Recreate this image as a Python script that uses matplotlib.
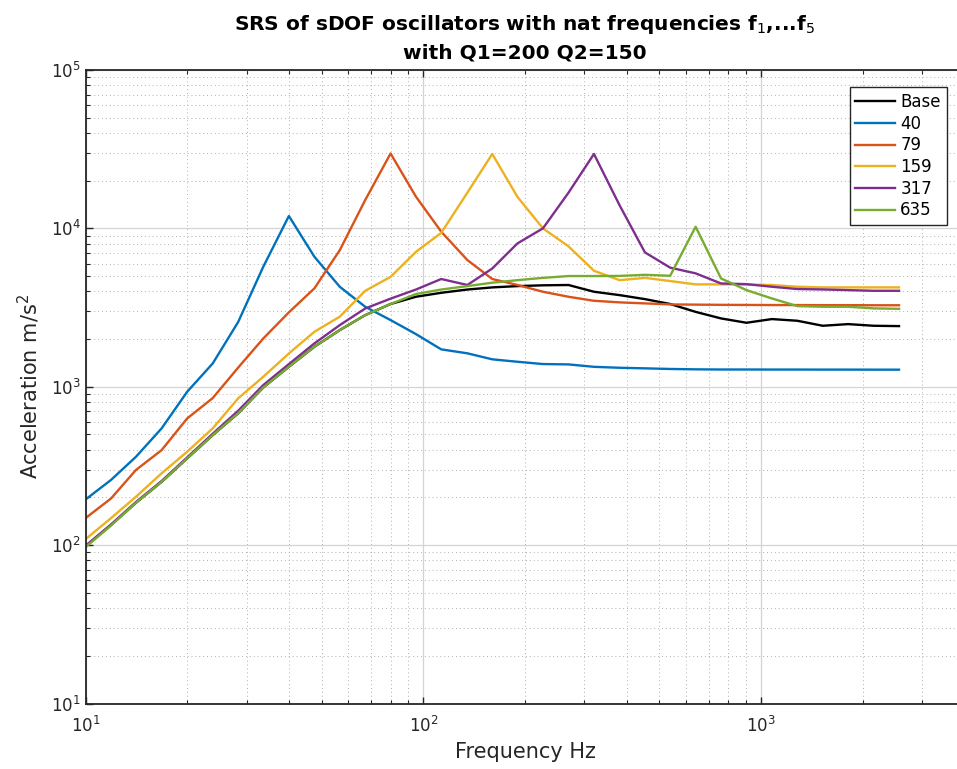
import matplotlib
matplotlib.use('Agg')
import matplotlib.pyplot as plt

# frequency grid (Hz), quarter-octave steps
freq = [10, 11.9, 14.1, 16.8, 20, 23.8, 28.3, 33.6, 40, 47.6, 56.6, 67.3, 80,
        95.1, 113, 135, 160, 190, 226, 269, 320, 381, 453, 538, 640, 761,
        905, 1076, 1280, 1522, 1810, 2153, 2560]

# SRS values, m/s^2
base = [98, 134, 185, 251, 353, 495, 680, 990, 1337, 1789, 2280, 2833, 3330,
        3700, 3920, 4110, 4240, 4320, 4370, 4390, 3980, 3790, 3575, 3330, 2970,
        2700, 2535, 2675, 2610, 2427, 2486, 2427, 2415]
f40 = [194, 258, 361, 546, 930, 1403, 2560, 5730, 11970, 6620, 4276, 3198, 2636,
       2150, 1722, 1626, 1490, 1438, 1391, 1384, 1336, 1318, 1307, 1295, 1288,
       1285, 1285, 1284, 1284, 1283, 1283, 1282, 1282]
f79 = [148, 197, 298, 398, 631, 848, 1320, 2018, 2950, 4180, 7290, 15100, 29700,
       15860, 9530, 6310, 4790, 4390, 3980, 3700, 3490, 3410, 3360, 3310, 3300,
       3290, 3285, 3280, 3280, 3275, 3275, 3270, 3270]
f159 = [109, 148, 202, 284, 389, 546, 844, 1157, 1622, 2225, 2770, 4035, 4940,
        7110, 9370, 16800, 29500, 15800, 10000, 7700, 5400, 4710, 4870, 4650, 4430,
        4430, 4420, 4390, 4280, 4240, 4240, 4240, 4240]
f317 = [99, 135, 187, 254, 358, 505, 705, 1025, 1390, 1878, 2450, 3120, 3600,
        4110, 4790, 4390, 5580, 8040, 10000, 16800, 29500, 14000, 7050, 5650, 5200,
        4490, 4445, 4280, 4140, 4115, 4075, 4035, 4035]
f635 = [97, 133, 185, 251, 353, 495, 680, 990, 1337, 1789, 2280, 2833, 3330,
        3850, 4110, 4320, 4540, 4710, 4870, 5000, 5000, 5010, 5090, 5020, 10240,
        4830, 4075, 3610, 3230, 3200, 3200, 3125, 3105]

labels = ['Base', '40', '79', '159', '317', '635']
series = [base, f40, f79, f159, f317, f635]
colors = ['k', '#0072BD', '#D95319', '#EDB120', '#7E2F8E', '#77AC30']

W, H = 957, 769
fig = plt.figure(figsize=(W / 100, H / 100), dpi=100)
# axes runs a little past the right edge, as in the cropped screenshot
ax = fig.add_axes([85.5 / W, (H - 703.5) / H, (964.5 - 85.5) / W, (703.5 - 70) / H])

for y, lab, c in zip(series, labels, colors):
    ax.plot(freq, y, color=c, lw=1.7, label=lab)

ax.set_xscale('log')
ax.set_yscale('log')
ax.set_xlim(10, 4000)
ax.set_ylim(10, 1e5)

ax.grid(True, which='major', color='#d4d4d4', lw=0.9)
ax.grid(True, which='minor', color='#b0b0b0', lw=0.7, ls=(0, (1, 3)))
ax.set_axisbelow(True)
ax.tick_params(which='both', direction='in', top=True, right=True,
               color='#262626', labelsize=12, labelcolor='#262626')
ax.tick_params(which='major', length=5, width=1)
ax.tick_params(which='minor', length=3, width=0.8)
ax.tick_params(axis='x', which='major', pad=9)
for s in ax.spines.values():
    s.set_linewidth(1.3)
    s.set_color('#262626')

ax.set_xlabel('Frequency Hz', fontsize=15, color='#262626', labelpad=4)
ax.set_ylabel('Acceleration m/s$^2$', fontsize=15, color='#262626', labelpad=6)
ax.set_title('SRS of sDOF oscillators with nat frequencies f$_1$,...f$_5$\n'
             'with Q1=200 Q2=150', fontsize=14.5, fontweight='bold', pad=8,
             linespacing=1.5)

ax.legend(loc='upper right', bbox_to_anchor=(946.7 / W, 1 - 87.3 / H),
          bbox_transform=fig.transFigure, borderaxespad=0, fontsize=12,
          fancybox=False, framealpha=1, edgecolor='#262626',
          handlelength=2.4, handletextpad=0.3, labelspacing=0.22, borderpad=0.35)

fig.savefig('out.png', dpi=100)
